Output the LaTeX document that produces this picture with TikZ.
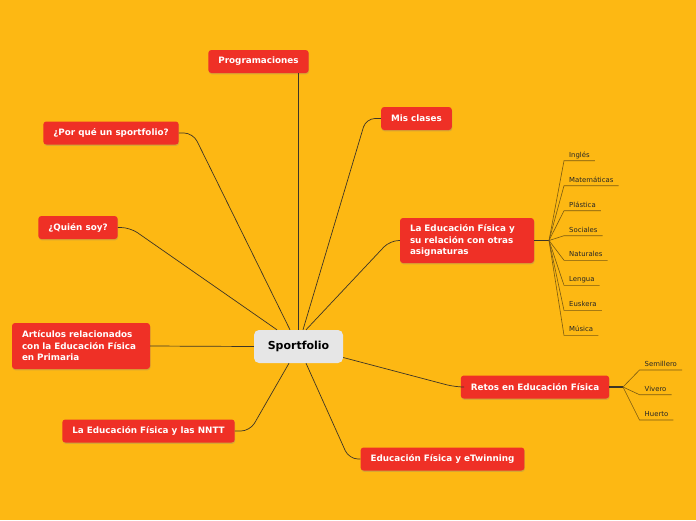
\documentclass[tikz,border=0pt]{standalone}
\usepackage{fontspec}
\setmainfont{DejaVu Sans}
\usetikzlibrary{shadows}
\definecolor{canvas}{HTML}{FDB813}
\definecolor{topic}{HTML}{EF3026}
\definecolor{core}{HTML}{E6E6E6}
\definecolor{branch}{HTML}{3D3526}
\definecolor{twig}{HTML}{7A5A12}

\begin{document}
\begin{tikzpicture}[x=1pt, y=-1pt,
  topicbox/.style={fill=topic, text=white, rounded corners=3pt,
    font=\fontsize{8.8}{11.5}\selectfont\bfseries, inner xsep=10pt,
    minimum height=23pt, align=left,
    drop shadow={shadow xshift=.5pt, shadow yshift=-1.3pt, opacity=.3}},
  corebox/.style={fill=core, text=black, rounded corners=5pt,
    font=\fontsize{11}{13}\selectfont\bfseries,
    minimum width=89pt, minimum height=33pt},
  leaf/.style={anchor=south west, inner xsep=5pt, inner ysep=2pt,
    font=\fontsize{6.9}{8}\selectfont, text=black!85,
    text height=5pt, text depth=1.5pt},
  link/.style={draw=branch, line width=.7pt, rounded corners=9pt},
  twiglink/.style={draw=twig, line width=.6pt}
]
  \fill[canvas] (0,0) rectangle (696,520);

  \node[corebox] (sport) at (298.5,346.5) {Sportfolio};

  \node[topicbox] (prog) at (258.5,61.5) {Programaciones};
  \node[topicbox] (clases) at (416.5,118.5) {Mis clases};
  \node[topicbox] (why) at (111,133) {¿Por qué un sportfolio?};
  \node[topicbox] (who) at (78,227.5) {¿Quién soy?};
  \node[topicbox, text width=114pt, minimum height=45pt] (rel) at (467,240.5) {
    La Educación Física y\\su relación con otras\\asignaturas};
  \node[topicbox, text width=118pt, minimum height=46pt] (art) at (81,346) {
    Artículos relacionados\\con la Educación Física\\en Primaria};
  \node[topicbox] (retos) at (535,387) {Retos en Educación Física};
  \node[topicbox] (nntt) at (148.5,431) {La Educación Física y las NNTT};
  \node[topicbox] (twin) at (442.5,459) {Educación Física y eTwinning};

  % main branches
  \draw[link] (sport.north) -- (sport.north |- prog.south);
  \draw[link] ([xshift=4.5pt]sport.north) -- (366,118.5) -- (clases.west);
  \draw[link] ([xshift=-8.5pt]sport.north) -- (193,133) -- (why.east);
  \draw[link] ([xshift=-21.5pt]sport.north) -- (130,227.5) -- (who.east);
  \draw[link] ([xshift=7.5pt]sport.north) -- (390,240.5) -- (rel.west);
  \draw[link] (sport.west) -- (art.east);
  \draw[link] ([yshift=-11pt]sport.east) -- (455,387) -- (retos.west);
  \draw[link] ([xshift=-9.5pt]sport.south) -- (250,431) -- (nntt.east);
  \draw[link] ([xshift=7.5pt]sport.south) -- (349,459) -- (twin.west);

  % subjects
  \coordinate (relhub) at (549,240.5);
  \draw[draw=branch, line width=1.2pt] (rel.east) -- (relhub);
  \node[leaf] (ingles) at (564,160.7) {Inglés};
  \node[leaf] (mates) at (564,185.7) {Matemáticas};
  \node[leaf] (plastica) at (564,210.7) {Plástica};
  \node[leaf] (sociales) at (564,235.7) {Sociales};
  \node[leaf] (naturales) at (564,260.3) {Naturales};
  \node[leaf] (lengua) at (564,285.3) {Lengua};
  \node[leaf] (euskera) at (564,310.3) {Euskera};
  \node[leaf] (musica) at (564,335.3) {Música};
  \draw[twiglink] (relhub) -- (ingles.south west) -- (ingles.south east);
  \draw[twiglink] (relhub) -- (mates.south west) -- (mates.south east);
  \draw[twiglink] (relhub) -- (plastica.south west) -- (plastica.south east);
  \draw[twiglink] (relhub) -- (sociales.south west) -- (sociales.south east);
  \draw[twiglink] (relhub) -- (naturales.south west) -- (naturales.south east);
  \draw[twiglink] (relhub) -- (lengua.south west) -- (lengua.south east);
  \draw[twiglink] (relhub) -- (euskera.south west) -- (euskera.south east);
  \draw[twiglink] (relhub) -- (musica.south west) -- (musica.south east);

  % challenges
  \coordinate (retoshub) at (623,387);
  \draw[draw=branch, line width=1.2pt] (retos.east) -- (retoshub);
  \node[leaf] (semillero) at (639.5,370) {Semillero};
  \node[leaf] (vivero) at (639.5,394.7) {Vivero};
  \node[leaf] (huerto) at (639.5,420) {Huerto};
  \draw[twiglink] (retoshub) -- (semillero.south west) -- (semillero.south east);
  \draw[twiglink] (retoshub) -- (vivero.south west) -- (vivero.south east);
  \draw[twiglink] (retoshub) -- (huerto.south west) -- (huerto.south east);
\end{tikzpicture}
\end{document}
